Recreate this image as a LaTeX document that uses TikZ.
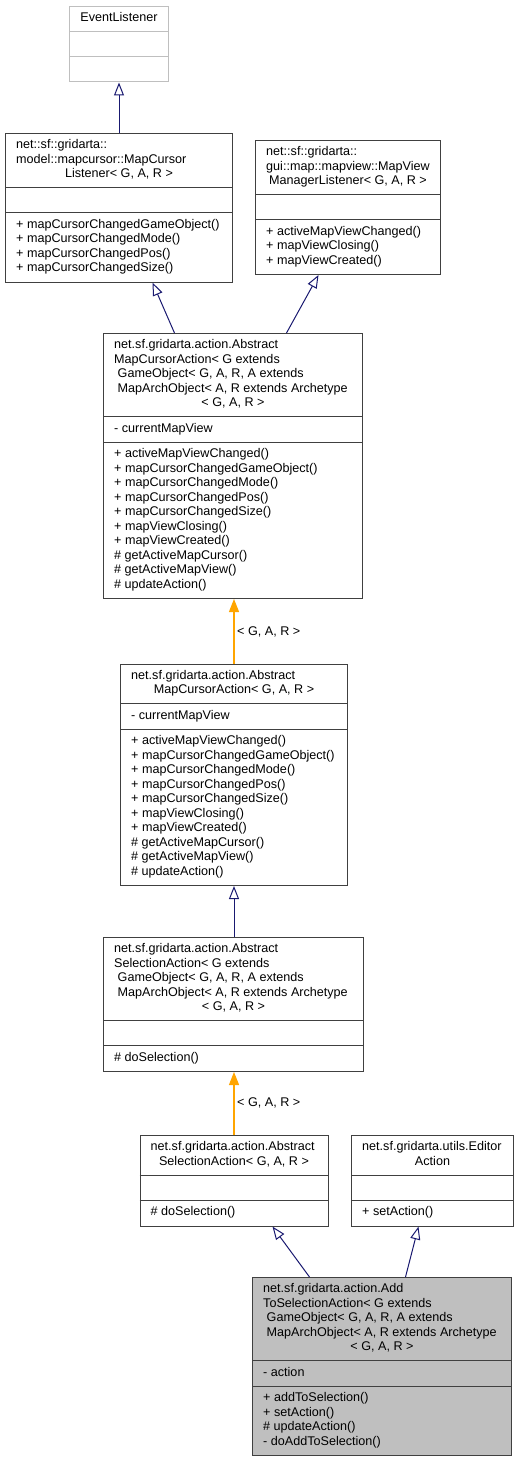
\documentclass[tikz,border=0pt]{standalone}
\usepackage{fontspec}
\setmainfont{Liberation Sans}
\definecolor{EdgeNavy}{RGB}{25,25,112}
\definecolor{TmplOrange}{RGB}{255,165,0}
\definecolor{BoxLine}{RGB}{64,64,64}
\definecolor{ExtLine}{RGB}{191,191,191}
\definecolor{CurFill}{RGB}{191,191,191}
\usetikzlibrary{arrows.meta,calc}

% rows of one compartment: box, prefix, offset of compartment top, list
\newcommand{\umlrows}[4]{%
  \foreach \s [count=\i from 0] in {#4}
    \node[lbl,anchor=base west] (#1-#2\i) at ($(#1.north west)+(11,#3+15.5+14.5*\i)$) {\s};}
% divider line inside a box
\newcommand{\umldiv}[2]{%
  \draw[divline] ($(#1.north west)+(0,#2)$) -- ($(#1.north east)+(0,#2)$);}

\begin{document}
\begin{tikzpicture}[x=1pt,y=-1pt,
  cls/.style={draw=BoxLine,line width=1pt,fill=white,inner sep=0pt,anchor=north west},
  divline/.style={draw=BoxLine,line width=1pt},
  lbl/.style={font=\fontsize{12.6}{14.5}\selectfont,inner sep=0pt},
  inherit/.style={draw=EdgeNavy,line width=1pt,-{Triangle[open,length=13pt,width=10pt]}},
  tmpl/.style={draw=TmplOrange,line width=1.1pt,-{Triangle[length=13pt,width=10pt]},fill=TmplOrange}]
  \useasboundingbox (0,0) rectangle (518,1461);

  % EventListener
  \node[cls,draw=ExtLine,minimum width=99pt,minimum height=75.5pt] (evl) at (69,6) {};
  \draw[divline,draw=ExtLine] ($(evl.north west)+(0,25.5)$) -- ($(evl.north east)+(0,25.5)$);
  \draw[divline,draw=ExtLine] ($(evl.north west)+(0,50.5)$) -- ($(evl.north east)+(0,50.5)$);
  \node[lbl,anchor=base] (evl-t0) at ($(evl.north)+(0,15.5)$) {EventListener};

  % MapCursorListener
  \node[cls,minimum width=227pt,minimum height=148.5pt] (mcl) at (5,133) {};
  \umldiv{mcl}{54.5} \umldiv{mcl}{79.5}
  \umlrows{mcl}{t}{0}{net::sf::gridarta::,model::mapcursor::MapCursor}
  \node[lbl,anchor=base] (mcl-tc) at ($(mcl.north)+(0,44.5)$) {Listener< G, A, R >};
  \umlrows{mcl}{m}{79.5}{+ mapCursorChangedGameObject(),+ mapCursorChangedMode(),+ mapCursorChangedPos(),+ mapCursorChangedSize()}

  % MapViewManagerListener
  \node[cls,minimum width=185pt,minimum height=134pt] (mvml) at (255,140) {};
  \umldiv{mvml}{54.5} \umldiv{mvml}{79.5}
  \umlrows{mvml}{t}{0}{net::sf::gridarta::,gui::map::mapview::MapView}
  \node[lbl,anchor=base] (mvml-tc) at ($(mvml.north)+(0,44.5)$) {ManagerListener< G, A, R >};
  \umlrows{mvml}{m}{79.5}{+ activeMapViewChanged(),+ mapViewClosing(),+ mapViewCreated()}

  % AbstractMapCursorAction (bound)
  \node[cls,minimum width=259pt,minimum height=265pt] (amca) at (103,333) {};
  \umldiv{amca}{83.5} \umldiv{amca}{109}
  \umlrows{amca}{t}{0}{net.sf.gridarta.action.Abstract,MapCursorAction< G extends,\ GameObject< G{,} A{,} R{,} A extends,\ MapArchObject< A{,} R extends Archetype}
  \node[lbl,anchor=base] (amca-tc) at ($(amca.north)+(0,73.5)$) {< G, A, R >};
  \umlrows{amca}{a}{83.5}{- currentMapView}
  \umlrows{amca}{m}{109}{+ activeMapViewChanged(),+ mapCursorChangedGameObject(),+ mapCursorChangedMode(),+ mapCursorChangedPos(),+ mapCursorChangedSize(),+ mapViewClosing(),+ mapViewCreated(),\# getActiveMapCursor(),\# getActiveMapView(),\# updateAction()}

  % AbstractMapCursorAction< G, A, R >
  \node[cls,minimum width=227pt,minimum height=221.5pt] (amcag) at (120,663.5) {};
  \umldiv{amcag}{40} \umldiv{amcag}{65.5}
  \umlrows{amcag}{t}{0}{net.sf.gridarta.action.Abstract}
  \node[lbl,anchor=base] (amcag-tc) at ($(amcag.north)+(0,30)$) {MapCursorAction< G, A, R >};
  \umlrows{amcag}{a}{40}{- currentMapView}
  \umlrows{amcag}{m}{65.5}{+ activeMapViewChanged(),+ mapCursorChangedGameObject(),+ mapCursorChangedMode(),+ mapCursorChangedPos(),+ mapCursorChangedSize(),+ mapViewClosing(),+ mapViewCreated(),\# getActiveMapCursor(),\# getActiveMapView(),\# updateAction()}

  % AbstractSelectionAction (bound)
  \node[cls,minimum width=260pt,minimum height=134pt] (asa) at (103,937) {};
  \umldiv{asa}{83.5} \umldiv{asa}{108.5}
  \umlrows{asa}{t}{0}{net.sf.gridarta.action.Abstract,SelectionAction< G extends,\ GameObject< G{,} A{,} R{,} A extends,\ MapArchObject< A{,} R extends Archetype}
  \node[lbl,anchor=base] (asa-tc) at ($(asa.north)+(0,73.5)$) {< G, A, R >};
  \umlrows{asa}{m}{108.5}{\# doSelection()}

  % AbstractSelectionAction< G, A, R >
  \node[cls,minimum width=188pt,minimum height=90.5pt] (asag) at (139.5,1135) {};
  \umldiv{asag}{40} \umldiv{asag}{65}
  \umlrows{asag}{t}{0}{net.sf.gridarta.action.Abstract}
  \node[lbl,anchor=base] (asag-tc) at ($(asag.north)+(0,30)$) {SelectionAction< G, A, R >};
  \umlrows{asag}{m}{65}{\# doSelection()}

  % EditorAction
  \node[cls,minimum width=162pt,minimum height=90.5pt] (ea) at (351,1135) {};
  \umldiv{ea}{40} \umldiv{ea}{65}
  \umlrows{ea}{t}{0}{net.sf.gridarta.utils.Editor}
  \node[lbl,anchor=base] (ea-tc) at ($(ea.north)+(0,30)$) {Action};
  \umlrows{ea}{m}{65}{+ setAction()}

  % AddToSelectionAction
  \node[cls,fill=CurFill,minimum width=259pt,minimum height=178pt] (atsa) at (252,1277) {};
  \umldiv{atsa}{83.5} \umldiv{atsa}{109}
  \umlrows{atsa}{t}{0}{net.sf.gridarta.action.Add,ToSelectionAction< G extends,\ GameObject< G{,} A{,} R{,} A extends,\ MapArchObject< A{,} R extends Archetype}
  \node[lbl,anchor=base] (atsa-tc) at ($(atsa.north)+(0,73.5)$) {< G, A, R >};
  \umlrows{atsa}{a}{83.5}{- action}
  \umlrows{atsa}{m}{109}{+ addToSelection(),+ setAction(),\# updateAction(),- doAddToSelection()}

  % edges
  \draw[inherit] (mcl.north) -- (evl.south);
  \draw[inherit] ([xshift=-58.5pt]amca.north) -- ([xshift=33.5pt]mcl.south);
  \draw[inherit] ([xshift=53.5pt]amca.north) -- ([xshift=-29.5pt]mvml.south);
  \draw[tmpl] (amcag.north) -- (amcag.north |- amca.south);
  \node[lbl,anchor=base west] (amcag-bind) at ($(amcag.north)+(3,-28.5)$) {< G, A, R >};
  \draw[inherit] (asa.north -| amcag.south) -- (amcag.south);
  \draw[tmpl] (asag.north) -- (asag.north |- asa.south);
  \node[lbl,anchor=base west] (asag-bind) at ($(asag.north)+(3,-28.5)$) {< G, A, R >};
  \draw[inherit] ([xshift=-72.5pt]atsa.north) -- ([xshift=38.5pt]asag.south);
  \draw[inherit] ([xshift=23.5pt]atsa.north) -- ([xshift=-14pt]ea.south);
\end{tikzpicture}
\end{document}
